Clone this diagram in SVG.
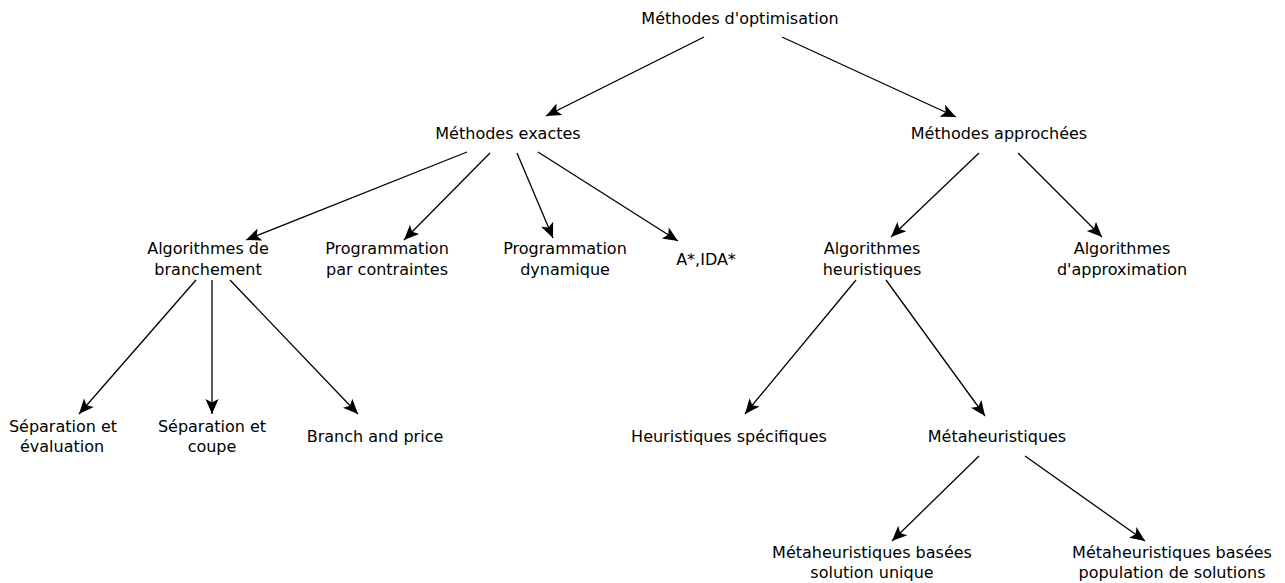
<svg xmlns="http://www.w3.org/2000/svg" width="1285" height="583" viewBox="0 0 1285 583">
<style>
text{font-family:"DejaVu Sans",sans-serif;font-size:16px;fill:#000;text-anchor:middle}
.c line{stroke:#000;stroke-width:1.3;marker-end:url(#ah)}
</style>
<defs>
<marker id="ah" markerUnits="userSpaceOnUse" viewBox="-16 -8 18 16" refX="0" refY="0" markerWidth="18" markerHeight="16" orient="auto">
<path d="M0,0 L-15,-6.5 L-11.5,0 L-15,6.5 Z" fill="#000"/>
</marker>
</defs>
<rect width="1285" height="583" fill="#fff"/>
<g class="c" id="connectors">
<line x1="704" y1="37" x2="546" y2="116"/>
<line x1="782" y1="37" x2="956" y2="117"/>
<line x1="467" y1="152" x2="246" y2="240"/>
<line x1="490" y1="153" x2="404" y2="240"/>
<line x1="517" y1="153" x2="553" y2="238"/>
<line x1="538" y1="152" x2="678" y2="241"/>
<line x1="979" y1="153" x2="891" y2="237"/>
<line x1="1018" y1="153" x2="1102" y2="237"/>
<line x1="196" y1="280" x2="79" y2="414"/>
<line x1="212" y1="280" x2="212" y2="414"/>
<line x1="230" y1="280" x2="358" y2="414"/>
<line x1="856" y1="280" x2="745" y2="414"/>
<line x1="886" y1="280" x2="985" y2="416"/>
<line x1="979" y1="456" x2="892" y2="541"/>
<line x1="1025" y1="456" x2="1145" y2="541"/>
</g>
<g id="n-root"><text x="740" y="24">Méthodes d'optimisation</text></g>
<g id="n-exactes"><text x="508" y="139">Méthodes exactes</text></g>
<g id="n-approchees"><text x="999" y="139">Méthodes approchées</text></g>
<g id="n-branchement"><text x="208" y="254">Algorithmes de</text><text x="208" y="275">branchement</text></g>
<g id="n-contraintes"><text x="387" y="254">Programmation</text><text x="387" y="275">par contraintes</text></g>
<g id="n-dynamique"><text x="565" y="254">Programmation</text><text x="565" y="275">dynamique</text></g>
<g id="n-astar"><text x="706" y="265">A*,IDA*</text></g>
<g id="n-heuristiques"><text x="872" y="254">Algorithmes</text><text x="872" y="275">heuristiques</text></g>
<g id="n-approx"><text x="1122" y="254">Algorithmes</text><text x="1122" y="275">d'approximation</text></g>
<g id="n-sepeval"><text x="63" y="432">Séparation et</text><text x="62" y="452">évaluation</text></g>
<g id="n-sepcoupe"><text x="212" y="432">Séparation et</text><text x="212" y="452">coupe</text></g>
<g id="n-bp"><text x="375" y="442">Branch and price</text></g>
<g id="n-hspec"><text x="729" y="442">Heuristiques spécifiques</text></g>
<g id="n-meta"><text x="997" y="442">Métaheuristiques</text></g>
<g id="n-unique"><text x="872" y="558">Métaheuristiques basées</text><text x="872" y="578">solution unique</text></g>
<g id="n-population"><text x="1172" y="558">Métaheuristiques basées</text><text x="1172" y="578">population de solutions</text></g>
</svg>
